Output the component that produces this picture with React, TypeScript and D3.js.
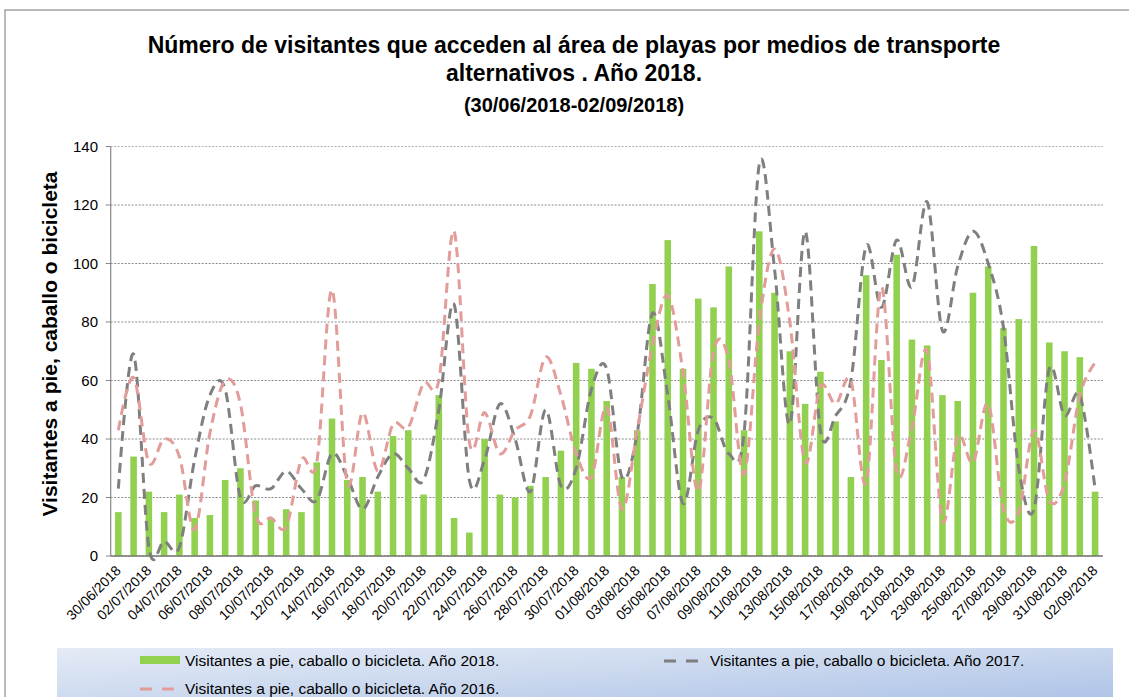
import React from "react";
import * as d3 from "d3";

const dates: string[] = (() => {
  const out: string[] = [];
  const months = [
    { m: "06", days: [30] },
    { m: "07", days: d3.range(1, 32) },
    { m: "08", days: d3.range(1, 32) },
    { m: "09", days: [1, 2] },
  ];
  months.forEach((mm) =>
    mm.days.forEach((d) => out.push(`${String(d).padStart(2, "0")}/${mm.m}/2018`))
  );
  return out;
})();

const visitors2018 = [
  15, 34, 22, 15, 21, 13, 14, 26, 30, 19, 13, 16, 15, 32, 47, 26, 27, 22, 41, 43, 21, 55, 13, 8, 40, 21, 20, 24, 27, 36, 66, 64,
  53, 27, 43, 93, 108, 64, 88, 85, 99, 43, 111, 90, 70, 52, 63, 46, 27, 96, 67, 103, 74, 72, 55, 53, 90, 99, 78, 81, 106, 73, 70, 68, 22,
];

const visitors2017 = [
  23, 69, 3, 5, 3, 33, 55, 57, 20, 24, 23, 29, 23, 19, 35, 27, 16, 27, 35, 30, 26, 50, 86, 26, 33, 52, 40, 22, 50, 24, 30, 57,
  64, 27, 42, 83, 55, 18, 43, 47, 35, 42, 134, 98, 45, 111, 43, 48, 60, 106, 85, 108, 92, 121, 77, 99, 111, 100, 78, 30, 16, 64, 48, 55, 23,
];

const visitors2016 = [
  43, 61, 32, 40, 34, 9, 42, 60, 52, 14, 13, 10, 33, 32, 91, 25, 49, 29, 45, 44, 59, 60, 111, 39, 49, 35, 43, 48, 68, 55, 35, 27,
  51, 16, 43, 72, 89, 63, 22, 70, 67, 28, 80, 105, 80, 32, 58, 52, 60, 25, 92, 29, 44, 70, 12, 41, 32, 52, 16, 15, 43, 19, 25, 55, 66,
];

const yTicks = [0, 20, 40, 60, 80, 100, 120, 140];

const titleLines = [
  "Número de visitantes  que acceden al área de playas por medios de transporte",
  "alternativos  . Año 2018.",
];
const subtitle = "(30/06/2018-02/09/2018)";
const yTitle = "Visitantes a pie, caballo o bicicleta";
const legendLabels = [
  "Visitantes a pie, caballo o bicicleta. Año 2018.",
  "Visitantes a pie, caballo o bicicleta. Año 2017.",
  "Visitantes a pie, caballo o bicicleta. Año 2016.",
];

const FONT = "'Liberation Sans', Arial, sans-serif";
const GREEN = "#92d050";
const GRAY = "#7f7f7f";
const PINK = "#e29c9a";

export default function App() {
  const W = 1129;
  const H = 697;
  const left = 110.7;
  const right = 1102.7;
  const top = 146.5;
  const bottom = 556;

  const x = d3
    .scaleBand<number>()
    .domain(d3.range(dates.length))
    .range([left, right])
    .paddingInner(0.57)
    .paddingOuter(0.285);
  const bw = x.bandwidth();
  const cx = (i: number) => (x(i) as number) + bw / 2;

  const y = d3.scaleLinear().domain([0, 140]).range([bottom, top]);

  const line = d3
    .line<number>()
    .x((_, i) => cx(i))
    .y((d) => y(d))
    .curve(d3.curveCardinal.tension(0));

  return (
    <svg
      width={W}
      height={H}
      style={{ position: "absolute", left: 0, top: 0, background: "#fff" }}
      fontFamily={FONT}
    >
      <defs>
        <linearGradient id="legGrad" x1="0" y1="0" x2="1" y2="1">
          <stop offset="0" stopColor="#e4ebf6" />
          <stop offset="0.5" stopColor="#c9d7ee" />
          <stop offset="1" stopColor="#a9c0e6" />
        </linearGradient>
      </defs>
      <rect x={5} y={10} width={1300} height={800} fill="#fff" stroke="#8c8c8c" strokeWidth={1.2} />

      {/* titles */}
      <text x={574} y={53} textAnchor="middle" fontWeight="bold" fontSize={23}>
        {titleLines[0]}
      </text>
      <text x={574} y={81} textAnchor="middle" fontWeight="bold" fontSize={23}>
        {titleLines[1]}
      </text>
      <text x={574} y={112} textAnchor="middle" fontWeight="bold" fontSize={20}>
        {subtitle}
      </text>

      {/* gridlines */}
      {yTicks.map((t) => (
        <line
          key={"g" + t}
          x1={left}
          x2={right}
          y1={y(t)}
          y2={y(t)}
          stroke={t === 140 ? "#b0b0b0" : "#8a8a8a"}
          strokeWidth={1}
          strokeDasharray="2,1.5"
        />
      ))}
      {/* y ticks */}
      {yTicks.map((t) => (
        <g key={"t" + t}>
          <line x1={left - 5} x2={left} y1={y(t)} y2={y(t)} stroke="#888" />
          <text x={98} y={y(t)} dy="0.35em" textAnchor="end" fontSize={15}>
            {t}
          </text>
        </g>
      ))}
      <line x1={left} x2={left} y1={top} y2={bottom} stroke="#888" strokeWidth={1.2} />

      {/* bars */}
      {visitors2018.map((v, i) => (
        <rect key={"b" + i} x={x(i)} y={y(v)} width={bw} height={y(0) - y(v)} fill={GREEN} />
      ))}

      {/* lines */}
      <path d={line(visitors2017) || ""} fill="none" stroke={GRAY} strokeWidth={3} strokeDasharray="10,6" />
      <path d={line(visitors2016) || ""} fill="none" stroke={PINK} strokeWidth={3} strokeDasharray="10,6" />

      <line x1={left} x2={right} y1={bottom} y2={bottom} stroke="#777" strokeWidth={1.5} />

      {/* x labels */}
      {dates.map((d, i) =>
        i % 2 === 0 ? (
          <text
            key={"x" + i}
            transform={`translate(${cx(i)},568) rotate(-45)`}
            textAnchor="end"
            dy="0.35em"
            fontSize={14}
          >
            {d}
          </text>
        ) : null
      )}

      {/* y title */}
      <text
        transform={`translate(57,344) rotate(-90)`}
        textAnchor="middle"
        fontWeight="bold"
        fontSize={21}
      >
        {yTitle}
      </text>

      {/* legend */}
      <rect x={57} y={648} width={1056} height={60} fill="url(#legGrad)" />
      <rect x={140} y={656} width={40} height={8} fill={GREEN} />
      <text x={185} y={661} dy="0.35em" fontSize={15.5}>
        {legendLabels[0]}
      </text>
      <line x1={664} x2={702} y1={661} y2={661} stroke={GRAY} strokeWidth={3} strokeDasharray="12,10" />
      <text x={710} y={661} dy="0.35em" fontSize={15.5}>
        {legendLabels[1]}
      </text>
      <line x1={140} x2={178} y1={689} y2={689} stroke={PINK} strokeWidth={3} strokeDasharray="12,10" />
      <text x={185} y={689} dy="0.35em" fontSize={15.5}>
        {legendLabels[2]}
      </text>
    </svg>
  );
}
